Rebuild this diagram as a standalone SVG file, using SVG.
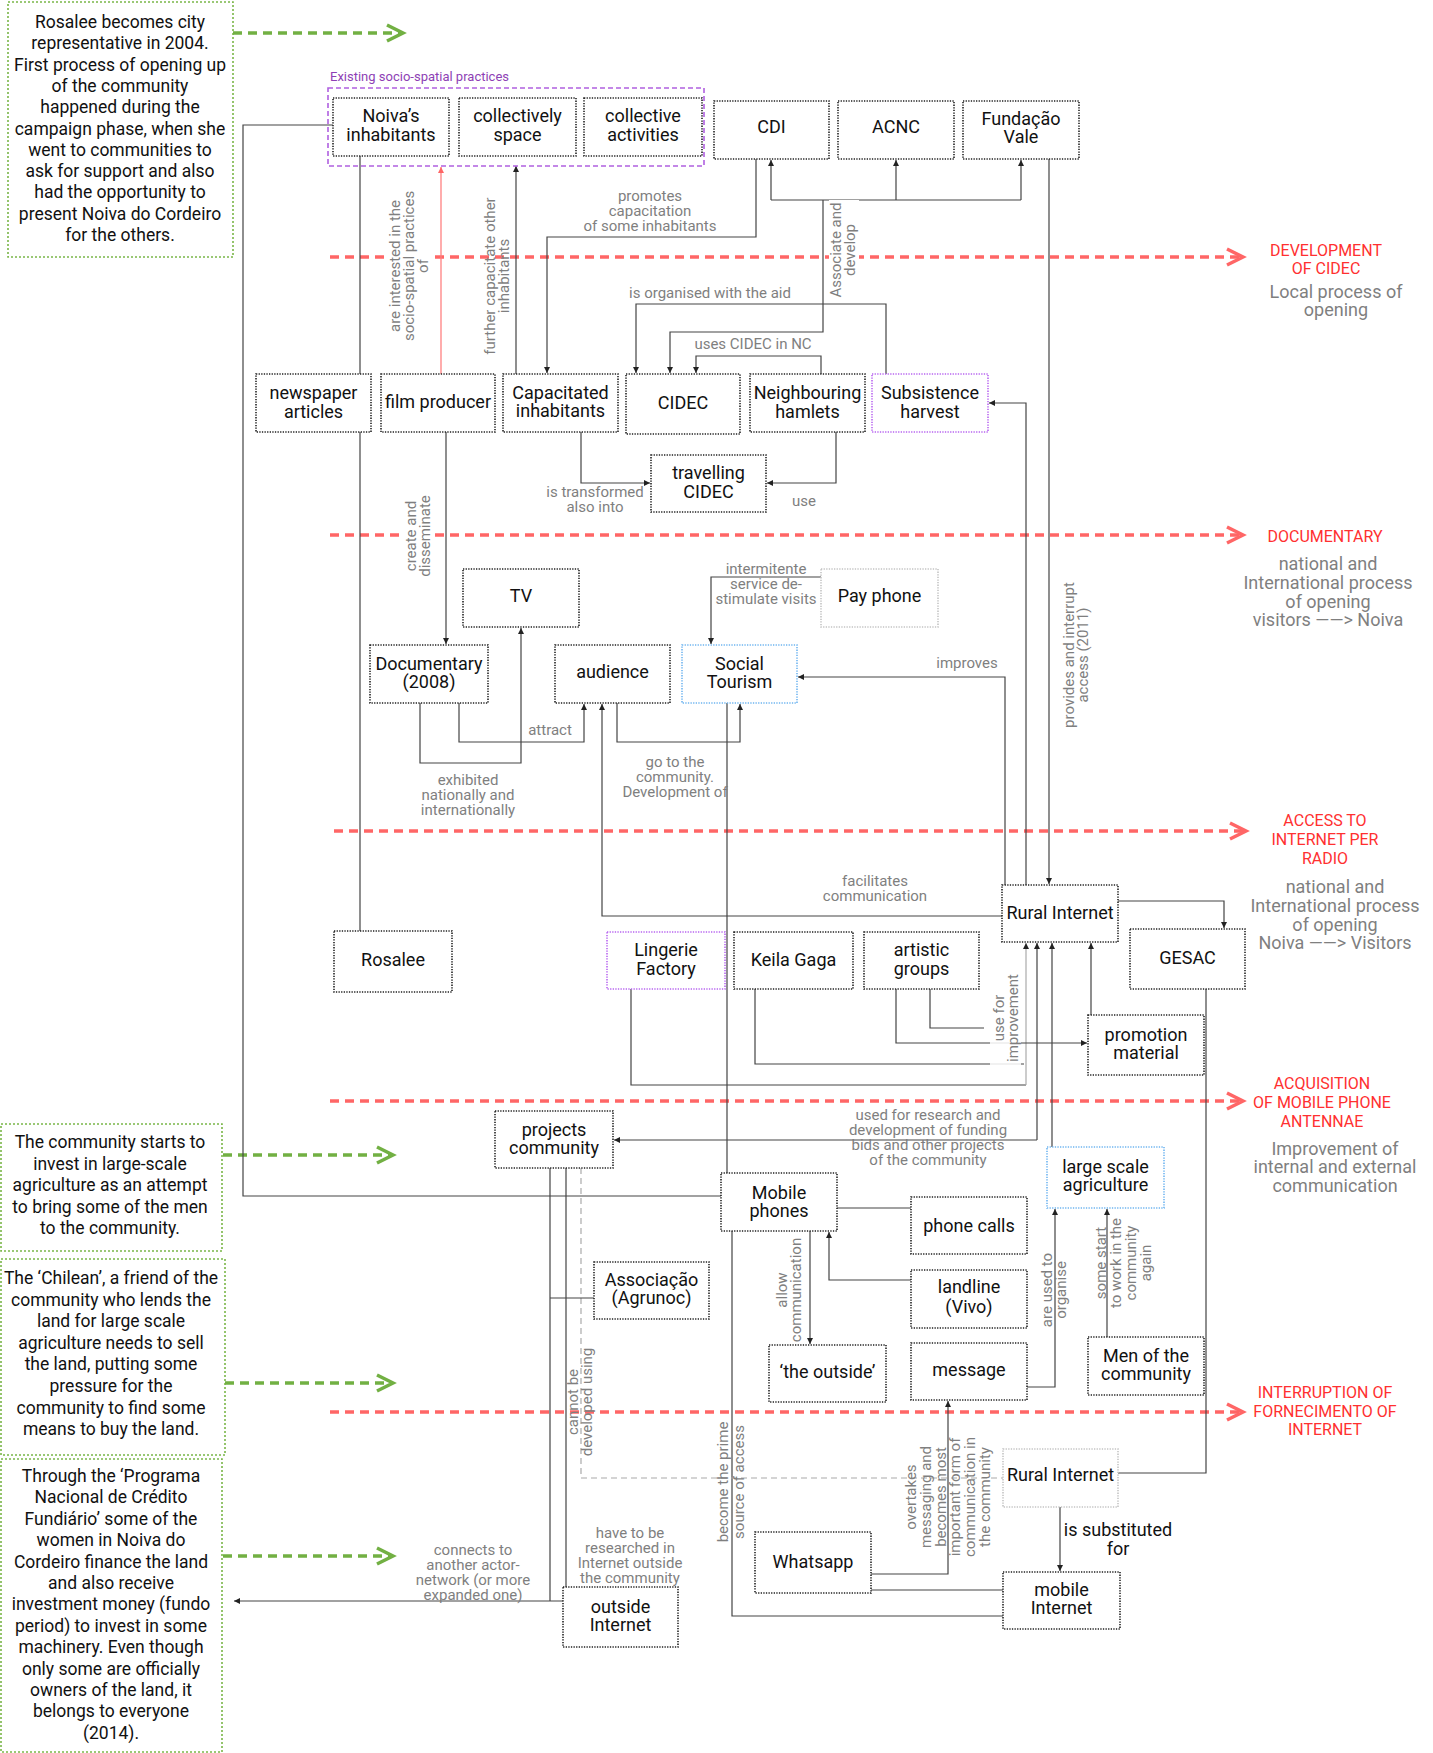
<svg xmlns="http://www.w3.org/2000/svg" width="1433" height="1753" viewBox="0 0 1433 1753">
<style>
text{font-family:Roboto,'Liberation Sans',sans-serif}
.n{fill:#fff;stroke:#222;stroke-width:1.6;stroke-dasharray:1.3 1.3}
.np{stroke:#b866f0}
.nb{stroke:#6fb5f0}
.ng{stroke:#c4c4c4}
.gbox{fill:#fff;stroke:#7ab648;stroke-width:1.6;stroke-dasharray:2 2}
.t{font-size:18px;fill:#111;text-anchor:middle}
.gt{font-size:17.5px;fill:#111;text-anchor:middle}
.l{font-size:15px;fill:#7f7f7f;text-anchor:middle}
.r{font-size:16px;fill:#ff3030;text-anchor:middle}
.s{font-size:18px;fill:#7f7f7f;text-anchor:middle}
.c{fill:none;stroke:#444;stroke-width:1.2}
.cl{fill:none;stroke:#aaa;stroke-width:1.2}
.cd{fill:none;stroke:#aaa;stroke-width:1.2;stroke-dasharray:6 4}
.cr{fill:none;stroke:#ff8080;stroke-width:1.3}
.rd{fill:none;stroke:#ff6666;stroke-width:3.5;stroke-dasharray:9 6}
.gd{fill:none;stroke:#72b043;stroke-width:3.5;stroke-dasharray:9 6}
.bg{fill:#fff}
</style>
<defs>
<marker id="a" markerUnits="userSpaceOnUse" markerWidth="7" markerHeight="7" refX="6" refY="3" orient="auto" overflow="visible"><path d="M0,0 L6,3 L0,6 z" fill="#222"/></marker>
<marker id="ar" markerUnits="userSpaceOnUse" markerWidth="7" markerHeight="7" refX="6" refY="3" orient="auto" overflow="visible"><path d="M0,0 L6,3 L0,6 z" fill="#ff6666"/></marker>
<marker id="chevR" markerUnits="userSpaceOnUse" markerWidth="20" markerHeight="20" refX="17" refY="10" orient="auto" overflow="visible"><path d="M1,2 L17,10 L1,18" fill="none" stroke="#ff6666" stroke-width="3.5"/></marker>
<marker id="chevG" markerUnits="userSpaceOnUse" markerWidth="20" markerHeight="20" refX="17" refY="10" orient="auto" overflow="visible"><path d="M1,2 L17,10 L1,18" fill="none" stroke="#72b043" stroke-width="3.5"/></marker>
</defs>
<rect width="1433" height="1753" fill="#fff"/>

<!-- phase dividers with their captions -->
<g id="phases">
<path class="rd" d="M330,257 H1243" marker-end="url(#chevR)"/>
<path class="rd" d="M330,535 H1243" marker-end="url(#chevR)"/>
<path class="rd" d="M334,831 H1246" marker-end="url(#chevR)"/>
<path class="rd" d="M330,1101 H1243" marker-end="url(#chevR)"/>
<path class="rd" d="M330,1412 H1243" marker-end="url(#chevR)"/>
<text class="r"><tspan x="1326" y="256">DEVELOPMENT</tspan><tspan x="1326" y="274">OF CIDEC</tspan></text>
<text class="s"><tspan x="1336" y="298">Local process of</tspan><tspan x="1336" y="316">opening</tspan></text>
<text class="r" x="1325" y="542">DOCUMENTARY</text>
<text class="s"><tspan x="1328" y="570">national and</tspan><tspan x="1328" y="589">International process</tspan><tspan x="1328" y="608">of opening</tspan><tspan x="1328" y="626">visitors ——&gt; Noiva</tspan></text>
<text class="r"><tspan x="1325" y="826">ACCESS TO</tspan><tspan x="1325" y="845">INTERNET PER</tspan><tspan x="1325" y="864">RADIO</tspan></text>
<text class="s"><tspan x="1335" y="893">national and</tspan><tspan x="1335" y="912">International process</tspan><tspan x="1335" y="931">of opening</tspan><tspan x="1335" y="949">Noiva  ——&gt; Visitors</tspan></text>
<text class="r"><tspan x="1322" y="1089">ACQUISITION</tspan><tspan x="1322" y="1108">OF MOBILE PHONE</tspan><tspan x="1322" y="1127">ANTENNAE</tspan></text>
<text class="s"><tspan x="1335" y="1155">Improvement of</tspan><tspan x="1335" y="1173">internal and external</tspan><tspan x="1335" y="1192">communication</tspan></text>
<text class="r"><tspan x="1325" y="1398">INTERRUPTION OF</tspan><tspan x="1325" y="1417">FORNECIMENTO OF</tspan><tspan x="1325" y="1435">INTERNET</tspan></text>
</g>

<!-- timeline notes -->
<g id="note-2004">
<rect class="gbox" x="8" y="2" width="225" height="255"/>
<text class="gt"><tspan x="120" y="28">Rosalee becomes city</tspan><tspan x="120" y="49.3">representative in 2004.</tspan><tspan x="120" y="70.6">First process of opening up</tspan><tspan x="120" y="91.9">of the community</tspan><tspan x="120" y="113.2">happened during the</tspan><tspan x="120" y="134.5">campaign phase, when she</tspan><tspan x="120" y="155.8">went to communities to</tspan><tspan x="120" y="177.1">ask for support and also</tspan><tspan x="120" y="198.4">had the opportunity to</tspan><tspan x="120" y="219.7">present Noiva do Cordeiro</tspan><tspan x="120" y="241">for the others.</tspan></text>
<path class="gd" d="M233,33 H403" marker-end="url(#chevG)"/>
</g>
<g id="note-agriculture">
<rect class="gbox" x="1" y="1124" width="221" height="127"/>
<text class="gt"><tspan x="110" y="1148">The community starts to</tspan><tspan x="110" y="1169.5">invest in large-scale</tspan><tspan x="110" y="1191">agriculture as an attempt</tspan><tspan x="110" y="1212.5">to bring some of the men</tspan><tspan x="110" y="1234">to the community.</tspan></text>
<path class="gd" d="M223,1155 H393" marker-end="url(#chevG)"/>
</g>
<g id="note-chilean">
<rect class="gbox" x="1" y="1259" width="224" height="196"/>
<text class="gt"><tspan x="111" y="1284">The ‘Chilean’, a friend of the</tspan><tspan x="111" y="1305.6">community who lends the</tspan><tspan x="111" y="1327.2">land for large scale</tspan><tspan x="111" y="1348.8">agriculture needs to sell</tspan><tspan x="111" y="1370.4">the land, putting some</tspan><tspan x="111" y="1392">pressure for the</tspan><tspan x="111" y="1413.6">community to find some</tspan><tspan x="111" y="1435.2">means to buy the land.</tspan></text>
<path class="gd" d="M225,1383 H393" marker-end="url(#chevG)"/>
</g>
<g id="note-2014">
<rect class="gbox" x="1" y="1459" width="221" height="293"/>
<text class="gt"><tspan x="111" y="1482">Through the ‘Programa</tspan><tspan x="111" y="1503.4">Nacional de Crédito</tspan><tspan x="111" y="1524.8">Fundiário’ some of the</tspan><tspan x="111" y="1546.2">women in Noiva do</tspan><tspan x="111" y="1567.6">Cordeiro finance the land</tspan><tspan x="111" y="1589">and also receive</tspan><tspan x="111" y="1610.4">investment money (fundo</tspan><tspan x="111" y="1631.8">period) to invest in some</tspan><tspan x="111" y="1653.2">machinery. Even though</tspan><tspan x="111" y="1674.6">only some are officially</tspan><tspan x="111" y="1696">owners of the land, it</tspan><tspan x="111" y="1717.4">belongs to everyone</tspan><tspan x="111" y="1738.8">(2014).</tspan></text>
<path class="gd" d="M223,1556 H393" marker-end="url(#chevG)"/>
</g>

<!-- connectors -->
<g id="connectors">
<path class="c" d="M333,125 H243 V1196 H721"/>
<path class="c" d="M360,156 V374"/>
<path class="c" d="M360,432 V931"/>
<path class="cr" d="M441,374 V167" marker-end="url(#ar)"/>
<path class="c" d="M516,374 V166" marker-end="url(#a)"/>
<path class="c" d="M756,159 V237 H547 V373" marker-end="url(#a)"/>
<path class="c" d="M823,200 V332 H670 V373" marker-end="url(#a)"/>
<path class="c" d="M771,200 H1021"/>
<path class="c" d="M771,200 V160" marker-end="url(#a)"/>
<path class="c" d="M896,200 V160" marker-end="url(#a)"/>
<path class="c" d="M1021,200 V160" marker-end="url(#a)"/>
<path class="c" d="M886,374 V304 H636 V373" marker-end="url(#a)"/>
<path class="c" d="M821,374 V356 H696 V373" marker-end="url(#a)"/>
<path class="c" d="M581,432 V483 H650" marker-end="url(#a)"/>
<path class="c" d="M836,432 V483 H767" marker-end="url(#a)"/>
<path class="c" d="M446,432 V644" marker-end="url(#a)"/>
<path class="c" d="M420,703 V763 H521 V628" marker-end="url(#a)"/>
<path class="c" d="M459,703 V742 H584 V704" marker-end="url(#a)"/>
<path class="c" d="M821,577 H711 V644" marker-end="url(#a)"/>
<path class="c" d="M617,703 V742 H740 V704" marker-end="url(#a)"/>
<path class="c" d="M1002,916 H602 V704" marker-end="url(#a)"/>
<path class="c" d="M727,703 V1173"/>
<path class="c" d="M1005,885 V677 H798" marker-end="url(#a)"/>
<path class="c" d="M1026,885 V403 H989" marker-end="url(#a)"/>
<path class="c" d="M1049,159 V884" marker-end="url(#a)"/>
<path class="c" d="M1118,901 H1224 V928" marker-end="url(#a)"/>
<path class="c" d="M1206,989 V1473 H1118"/>
<path class="c" d="M631,989 V1085 H1026"/>
<path class="cl" d="M1026,1085 V943" marker-end="url(#a)"/>
<path class="c" d="M755,989 V1064 H1024"/>
<path class="c" d="M896,989 V1043 H1087" marker-end="url(#a)"/>
<path class="c" d="M930,989 V1028 H984"/>
<path class="c" d="M1091,1015 V943" marker-end="url(#a)"/>
<path class="c" d="M1052,1147 V943" marker-end="url(#a)"/>
<path class="c" d="M1037,1140 V943" marker-end="url(#a)"/>
<path class="c" d="M1037,1140 H614" marker-end="url(#a)"/>
<path class="c" d="M837,1208 H911"/>
<path class="c" d="M911,1280 H829 V1232" marker-end="url(#a)"/>
<path class="c" d="M810,1231 V1344" marker-end="url(#a)"/>
<path class="c" d="M1027,1387 H1055 V1209" marker-end="url(#a)"/>
<path class="c" d="M1107,1337 V1209" marker-end="url(#a)"/>
<path class="c" d="M871,1574 H948 V1401" marker-end="url(#a)"/>
<path class="c" d="M871,1590 H1003"/>
<path class="c" d="M732,1231 V1616 H1003"/>
<path class="c" d="M1060,1507 V1571" marker-end="url(#a)"/>
<path class="c" d="M566,1168 V1587"/>
<path class="c" d="M550,1168 V1601"/>
<path class="c" d="M563,1601 H234" marker-end="url(#a)"/>
<path class="cd" d="M581,1168 V1478 H1003"/>
<path class="c" d="M594,1298 H550"/>

<!-- connector labels -->
<rect class="bg" x="387" y="186" width="45" height="160"/>
<text class="l" transform="translate(409,266) rotate(-90)"><tspan x="0" y="-9">are interested in the</tspan><tspan x="0" y="5">socio-spatial practices</tspan><tspan x="0" y="19">of</tspan></text>
<text class="l" transform="translate(497,276) rotate(-90)"><tspan x="0" y="-2">further capacitate other</tspan><tspan x="0" y="12">inhabitants</tspan></text>
<rect class="bg" x="829" y="200" width="30" height="100"/>
<text class="l" transform="translate(843,250) rotate(-90)"><tspan x="0" y="-2">Associate and</tspan><tspan x="0" y="12">develop</tspan></text>
<text class="l"><tspan x="650" y="201">promotes</tspan><tspan x="650" y="216">capacitation</tspan><tspan x="650" y="231">of some inhabitants</tspan></text>
<text class="l" x="710" y="298">is organised with the aid</text>
<text class="l" x="753" y="349">uses CIDEC in NC</text>
<text class="l"><tspan x="595" y="497">is transformed</tspan><tspan x="595" y="512">also into</tspan></text>
<text class="l" x="804" y="506">use</text>
<rect class="bg" x="403" y="490" width="31" height="92"/>
<text class="l" transform="translate(418,536) rotate(-90)"><tspan x="0" y="-2">create and</tspan><tspan x="0" y="12">disseminate</tspan></text>
<text class="l"><tspan x="766" y="574">intermitente</tspan><tspan x="766" y="589">service de-</tspan><tspan x="766" y="604">stimulate visits</tspan></text>
<text class="l" x="967" y="668">improves</text>
<text class="l" transform="translate(1076,655) rotate(-90)"><tspan x="0" y="-2">provides and interrupt</tspan><tspan x="0" y="12">access (2011)</tspan></text>
<text class="l" x="550" y="735">attract</text>
<text class="l"><tspan x="468" y="785">exhibited</tspan><tspan x="468" y="800">nationally and</tspan><tspan x="468" y="815">internationally</tspan></text>
<text class="l"><tspan x="675" y="767">go to the</tspan><tspan x="675" y="782">community.</tspan><tspan x="675" y="797">Development of</tspan></text>
<text class="l"><tspan x="875" y="886">facilitates</tspan><tspan x="875" y="901">communication</tspan></text>
<rect class="bg" x="990" y="968" width="31" height="100" opacity="0.85"/>
<text class="l" transform="translate(1006,1018) rotate(-90)"><tspan x="0" y="-2">use for</tspan><tspan x="0" y="12">improvement</tspan></text>
<text class="l"><tspan x="928" y="1120">used for research and</tspan><tspan x="928" y="1135">development of funding</tspan><tspan x="928" y="1150">bids and other projects</tspan><tspan x="928" y="1165">of the community</tspan></text>
<text class="l" transform="translate(789,1290) rotate(-90)"><tspan x="0" y="-2">allow</tspan><tspan x="0" y="12">communication</tspan></text>
<text class="l" transform="translate(1054,1290) rotate(-90)"><tspan x="0" y="-2">are used to</tspan><tspan x="0" y="12">organise</tspan></text>
<text class="l" transform="translate(1123,1263) rotate(-90)"><tspan x="0" y="-17.5">some start</tspan><tspan x="0" y="-2.5">to work in the</tspan><tspan x="0" y="12.5">community</tspan><tspan x="0" y="27.5">again</tspan></text>
<text class="l" transform="translate(580,1402) rotate(-90)"><tspan x="0" y="-2">cannot be</tspan><tspan x="0" y="12">developed using</tspan></text>
<text class="l" transform="translate(731,1482) rotate(-90)"><tspan x="0" y="-3">become  the prime</tspan><tspan x="0" y="13">source  of access</tspan></text>
<text class="l" transform="translate(948,1497) rotate(-90)"><tspan x="0" y="-32">overtakes</tspan><tspan x="0" y="-17.2">messaging and</tspan><tspan x="0" y="-2.4">becomes most</tspan><tspan x="0" y="12.4">important form of</tspan><tspan x="0" y="27.2">communication in</tspan><tspan x="0" y="42">the community</tspan></text>
<text class="l"><tspan x="630" y="1538">have to be</tspan><tspan x="630" y="1553">researched in</tspan><tspan x="630" y="1568">Internet outside</tspan><tspan x="630" y="1583">the community</tspan></text>
<text class="l"><tspan x="473" y="1555">connects to</tspan><tspan x="473" y="1570">another actor-</tspan><tspan x="473" y="1585">network (or more</tspan><tspan x="473" y="1600">expanded one)</tspan></text>
<text class="t"><tspan x="1118" y="1536">is substituted</tspan><tspan x="1118" y="1555">for</tspan></text>
</g>

<!-- grouping frame -->
<g id="existing-practices">
<rect x="328" y="88" width="376" height="78" fill="none" stroke="#b060e0" stroke-width="1.6" stroke-dasharray="5 3"/>
<text x="330" y="81" font-size="13" fill="#8e3fb5">Existing socio-spatial practices</text>
</g>

<!-- nodes -->
<g id="noiva"><rect class="n" x="333" y="98" width="116" height="58"/><text class="t"><tspan x="391" y="122">Noiva’s</tspan><tspan x="391" y="141">inhabitants</tspan></text></g>
<g id="collectively-space"><rect class="n" x="459" y="98" width="117" height="58"/><text class="t"><tspan x="517.5" y="122">collectively</tspan><tspan x="517.5" y="141">space</tspan></text></g>
<g id="collective-activities"><rect class="n" x="584" y="98" width="118" height="58"/><text class="t"><tspan x="643" y="122">collective</tspan><tspan x="643" y="141">activities</tspan></text></g>
<g id="cdi"><rect class="n" x="714" y="101" width="115" height="58"/><text class="t" x="771.5" y="133">CDI</text></g>
<g id="acnc"><rect class="n" x="838" y="101" width="116" height="58"/><text class="t" x="896" y="133">ACNC</text></g>
<g id="fundacao-vale"><rect class="n" x="963" y="101" width="116" height="58"/><text class="t"><tspan x="1021" y="125">Fundação</tspan><tspan x="1021" y="143">Vale</tspan></text></g>
<g id="newspaper"><rect class="n" x="256" y="374" width="115" height="58"/><text class="t"><tspan x="313.5" y="399">newspaper</tspan><tspan x="313.5" y="418">articles</tspan></text></g>
<g id="film-producer"><rect class="n" x="381" y="374" width="114" height="58"/><text class="t" x="438" y="408">film producer</text></g>
<g id="capacitated"><rect class="n" x="503" y="374" width="115" height="58"/><text class="t"><tspan x="560.5" y="399">Capacitated</tspan><tspan x="560.5" y="417">inhabitants</tspan></text></g>
<g id="cidec"><rect class="n" x="626" y="374" width="114" height="60"/><text class="t" x="683" y="409">CIDEC</text></g>
<g id="neighbouring"><rect class="n" x="750" y="374" width="115" height="58"/><text class="t"><tspan x="807.5" y="399">Neighbouring</tspan><tspan x="807.5" y="418">hamlets</tspan></text></g>
<g id="subsistence"><rect class="n np" x="872" y="374" width="116" height="58"/><text class="t"><tspan x="930" y="399">Subsistence</tspan><tspan x="930" y="418">harvest</tspan></text></g>
<g id="travelling-cidec"><rect class="n" x="651" y="455" width="115" height="57"/><text class="t"><tspan x="708.5" y="479">travelling</tspan><tspan x="708.5" y="498">CIDEC</tspan></text></g>
<g id="tv"><rect class="n" x="463" y="569" width="116" height="58"/><text class="t" x="521" y="602">TV</text></g>
<g id="pay-phone"><rect class="n ng" x="821" y="569" width="117" height="58"/><text class="t" x="879.5" y="602">Pay phone</text></g>
<g id="documentary"><rect class="n" x="370" y="645" width="118" height="58"/><text class="t"><tspan x="429" y="670">Documentary</tspan><tspan x="429" y="688">(2008)</tspan></text></g>
<g id="audience"><rect class="n" x="555" y="645" width="115" height="58"/><text class="t" x="612.5" y="678">audience</text></g>
<g id="social-tourism"><rect class="n nb" x="682" y="645" width="115" height="58"/><text class="t"><tspan x="739.5" y="670">Social</tspan><tspan x="739.5" y="688">Tourism</tspan></text></g>
<g id="rural-internet"><rect class="n" x="1002" y="885" width="116" height="57"/><text class="t" x="1060" y="919">Rural Internet</text></g>
<g id="gesac"><rect class="n" x="1130" y="929" width="115" height="60"/><text class="t" x="1187.5" y="964">GESAC</text></g>
<g id="rosalee"><rect class="n" x="334" y="931" width="118" height="61"/><text class="t" x="393" y="966">Rosalee</text></g>
<g id="lingerie-factory"><rect class="n np" x="607" y="932" width="118" height="57"/><text class="t"><tspan x="666" y="956">Lingerie</tspan><tspan x="666" y="975">Factory</tspan></text></g>
<g id="keila-gaga"><rect class="n" x="734" y="932" width="119" height="57"/><text class="t" x="793.5" y="966">Keila Gaga</text></g>
<g id="artistic-groups"><rect class="n" x="864" y="932" width="115" height="57"/><text class="t"><tspan x="921.5" y="956">artistic</tspan><tspan x="921.5" y="975">groups</tspan></text></g>
<g id="promotion-material"><rect class="n" x="1088" y="1015" width="116" height="60"/><text class="t"><tspan x="1146" y="1041">promotion</tspan><tspan x="1146" y="1059">material</tspan></text></g>
<g id="projects-community"><rect class="n" x="495" y="1111" width="118" height="57"/><text class="t"><tspan x="554" y="1136">projects</tspan><tspan x="554" y="1154">community</tspan></text></g>
<g id="large-scale-agriculture"><rect class="n nb" x="1047" y="1147" width="117" height="61"/><text class="t"><tspan x="1105.5" y="1173">large scale</tspan><tspan x="1105.5" y="1191">agriculture</tspan></text></g>
<g id="mobile-phones"><rect class="n" x="721" y="1173" width="116" height="58"/><text class="t"><tspan x="779" y="1199">Mobile</tspan><tspan x="779" y="1217">phones</tspan></text></g>
<g id="phone-calls"><rect class="n" x="911" y="1197" width="116" height="57"/><text class="t" x="969" y="1232">phone calls</text></g>
<g id="associacao"><rect class="n" x="594" y="1262" width="115" height="57"/><text class="t"><tspan x="651.5" y="1286">Associação</tspan><tspan x="651.5" y="1304">(Agrunoc)</tspan></text></g>
<g id="landline"><rect class="n" x="911" y="1270" width="116" height="58"/><text class="t"><tspan x="969" y="1293">landline</tspan><tspan x="969" y="1313">(Vivo)</tspan></text></g>
<g id="men-of-community"><rect class="n" x="1088" y="1337" width="116" height="58"/><text class="t"><tspan x="1146" y="1362">Men of the</tspan><tspan x="1146" y="1380">community</tspan></text></g>
<g id="the-outside"><rect class="n" x="769" y="1345" width="117" height="57"/><text class="t" x="827.5" y="1378">‘the outside’</text></g>
<g id="message"><rect class="n" x="911" y="1343" width="116" height="57"/><text class="t" x="969" y="1376">message</text></g>
<g id="rural-internet-2"><rect class="n ng" x="1003" y="1449" width="115" height="58"/><text class="t" x="1060.5" y="1481">Rural Internet</text></g>
<g id="whatsapp"><rect class="n" x="755" y="1532" width="116" height="61"/><text class="t" x="813" y="1568">Whatsapp</text></g>
<g id="mobile-internet"><rect class="n" x="1003" y="1572" width="117" height="57"/><text class="t"><tspan x="1061.5" y="1596">mobile</tspan><tspan x="1061.5" y="1614">Internet</tspan></text></g>
<g id="outside-internet"><rect class="n" x="563" y="1587" width="115" height="60"/><text class="t"><tspan x="620.5" y="1613">outside</tspan><tspan x="620.5" y="1631">Internet</tspan></text></g>
</svg>
